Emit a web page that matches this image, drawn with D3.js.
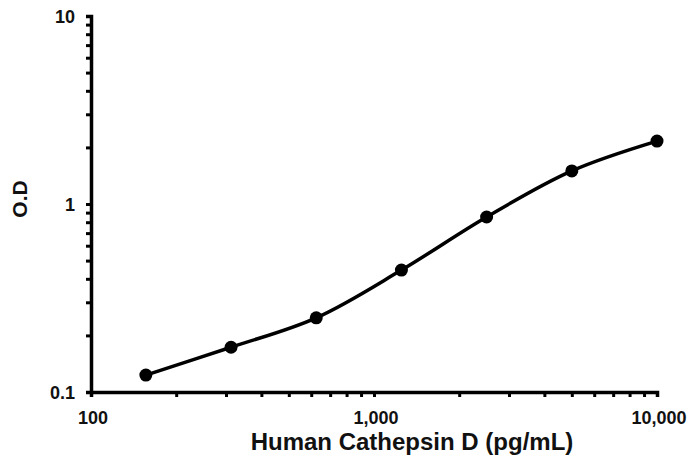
<!DOCTYPE html>
<html>
<head>
<meta charset="utf-8">
<script src="https://cdn.jsdelivr.net/npm/d3@7"></script>
<style>
body { margin: 0; background: #fff; }
svg text { font-family: Arial, "Liberation Sans", sans-serif; font-weight: bold; fill: #111; }
</style>
</head>
<body>
<svg id="chart" width="688" height="459"></svg>
<script>
// standard curve points
const conc = [156.25, 312.5, 625, 1250, 2500, 5000, 10000];
const od = [0.123, 0.173, 0.248, 0.445, 0.853, 1.50, 2.16];
const xTicks = [100, 1000, 10000];
const yTicks = [0.1, 1, 10];

const svg = d3.select('#chart');
const plotL = 91, plotR = 657, plotT = 16, plotB = 392;

const x = d3.scaleLog().domain([100, 10000]).range([plotL, plotR]);
const y = d3.scaleLog().domain([0.1, 10]).range([plotB, plotT]);

// minor ticks 2..9 in each decade
const minor = (lo, hi) => {
    const out = [];
    for (let d = lo; d < hi; d *= 10)
        for (let k = 1; k < 10; k++) out.push(d * k);
    out.push(hi);
    return out;
};

const fmt = d3.format(',');

const xAxis = svg.append('g')
    .attr('transform', `translate(0,${plotB})`)
    .call(d3.axisBottom(x).tickValues(minor(100, 10000)).tickSize(5).tickFormat(''));
const yAxis = svg.append('g')
    .attr('transform', `translate(${plotL},0)`)
    .call(d3.axisLeft(y).tickValues(minor(0.1, 10)).tickSize(5).tickFormat(''));

[xAxis, yAxis].forEach(g => {
    g.select('.domain').attr('stroke', '#000').attr('stroke-width', 3.5);
    g.selectAll('.tick line').attr('stroke', '#000').attr('stroke-width', 3);
});

svg.append('g').selectAll('text')
    .data(xTicks).enter().append('text')
    .attr('x', d => x(d) + 2)
    .attr('y', plotB + 32)
    .attr('text-anchor', 'middle')
    .attr('font-size', 18)
    .text(d => fmt(d));

svg.append('g').selectAll('text')
    .data(yTicks).enter().append('text')
    .attr('x', plotL - 16)
    .attr('y', d => y(d) + 7)
    .attr('text-anchor', 'end')
    .attr('font-size', 18)
    .text(d => d);

svg.append('text')
    .attr('x', 412).attr('y', 450)
    .attr('text-anchor', 'middle')
    .attr('font-size', 24)
    .text('Human Cathepsin D (pg/mL)');

svg.append('text')
    .attr('transform', 'translate(27,199) rotate(-90)')
    .attr('text-anchor', 'middle')
    .attr('font-size', 21)
    .text('O.D');

const line = d3.line()
    .x((d, i) => x(conc[i]))
    .y(d => y(d))
    .curve(d3.curveCatmullRom.alpha(0.5));

svg.append('path')
    .datum(od)
    .attr('d', line)
    .attr('fill', 'none')
    .attr('stroke', '#000')
    .attr('stroke-width', 3.5);

svg.append('g').selectAll('circle')
    .data(od).enter().append('circle')
    .attr('cx', (d, i) => x(conc[i]))
    .attr('cy', d => y(d))
    .attr('r', 6.5)
    .attr('fill', '#000');
</script>
</body>
</html>
